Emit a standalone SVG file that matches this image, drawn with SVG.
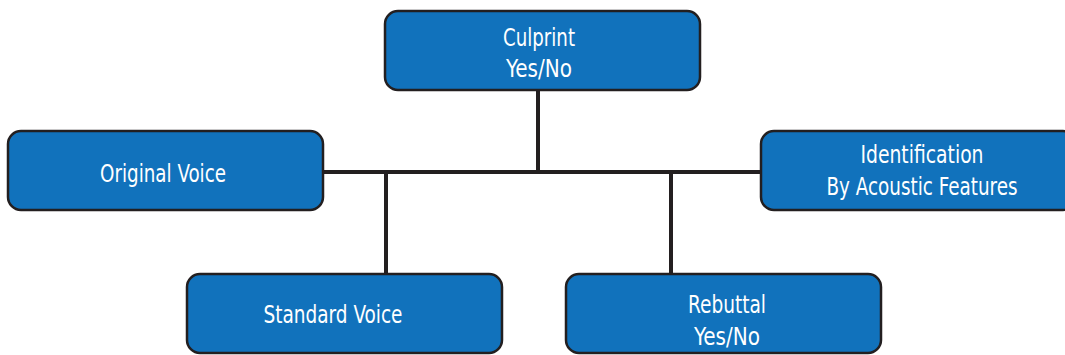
<svg xmlns="http://www.w3.org/2000/svg" width="1065" height="355" viewBox="0 0 1065 355">
<style>
.box{fill:#1172bc;stroke:#231f20;stroke-width:2.5}
.t{font-family:"DejaVu Sans Condensed","DejaVu Sans",sans-serif;font-size:25px;fill:#fff;text-anchor:middle}
.c{stroke:#231f20;stroke-width:4;fill:none}
</style>
<rect width="1065" height="355" fill="#fff"/>
<g id="connectors">
<line class="c" x1="538" y1="90" x2="538" y2="172"/>
<line class="c" x1="323" y1="172" x2="760" y2="172"/>
<line class="c" x1="386" y1="172" x2="386" y2="274"/>
<line class="c" x1="671" y1="172" x2="671" y2="274"/>
</g>
<g id="culprint">
<rect class="box" x="385" y="11" width="315" height="79" rx="13"/>
<text class="t" x="539" y="46" textLength="72" lengthAdjust="spacingAndGlyphs">Culprint</text>
<text class="t" x="539" y="77" textLength="66" lengthAdjust="spacingAndGlyphs">Yes/No</text>
</g>
<g id="original">
<rect class="box" x="8" y="131" width="315" height="79" rx="13"/>
<text class="t" x="163" y="182" textLength="126" lengthAdjust="spacingAndGlyphs">Original Voice</text>
</g>
<g id="identification">
<rect class="box" x="761" y="131" width="315" height="79" rx="13"/>
<text class="t" x="922" y="163" textLength="123" lengthAdjust="spacingAndGlyphs">Identification</text>
<text class="t" x="922" y="195" textLength="191" lengthAdjust="spacingAndGlyphs">By Acoustic Features</text>
</g>
<g id="standard">
<rect class="box" x="187" y="274" width="315" height="79" rx="13"/>
<text class="t" x="333" y="323" textLength="139" lengthAdjust="spacingAndGlyphs">Standard Voice</text>
</g>
<g id="rebuttal">
<rect class="box" x="566" y="274" width="315" height="79" rx="13"/>
<text class="t" x="727" y="313" textLength="78" lengthAdjust="spacingAndGlyphs">Rebuttal</text>
<text class="t" x="727" y="345" textLength="66" lengthAdjust="spacingAndGlyphs">Yes/No</text>
</g>
</svg>
